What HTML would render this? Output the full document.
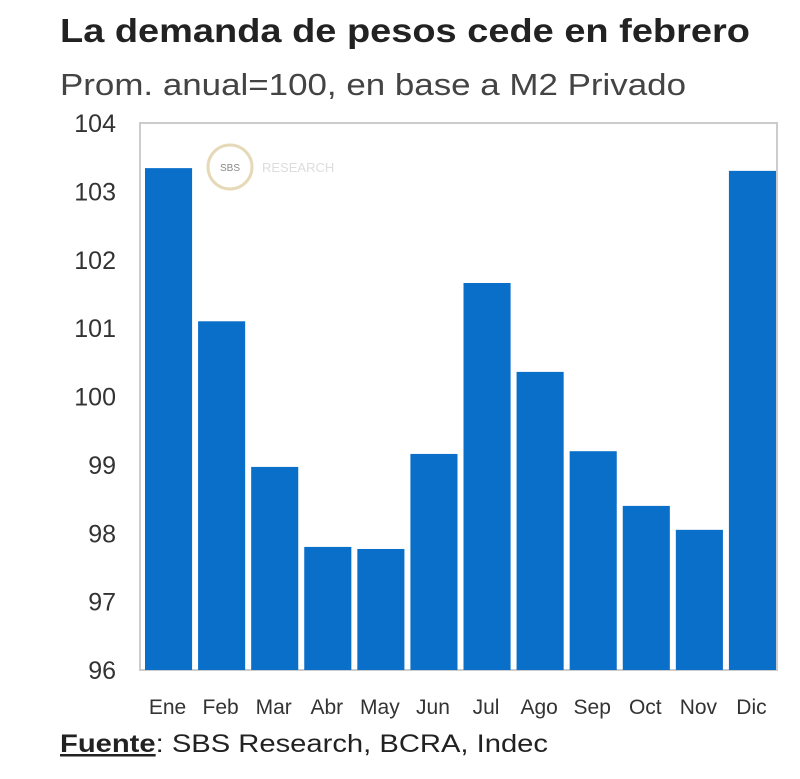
<!DOCTYPE html>
<html><head><meta charset="utf-8"><style>
body{margin:0;background:#fff;width:800px;height:774px;overflow:hidden;font-family:"Liberation Sans",sans-serif;}
</style></head><body>
<svg width="800" height="774">
<text x="60" y="42" font-size="33" font-weight="bold" fill="#222" textLength="690" lengthAdjust="spacingAndGlyphs">La demanda de pesos cede en febrero</text>
<text x="60" y="95" font-size="31" fill="#444" textLength="626" lengthAdjust="spacingAndGlyphs">Prom. anual=100, en base a M2 Privado</text>
<rect x="140" y="123" width="637" height="547" fill="#fff" stroke="#ccc" stroke-width="2"/>
<g>
<circle cx="230" cy="167" r="22" fill="#fff" stroke="#e6d9b8" stroke-width="3"/>
<text x="230" y="171" font-size="10" text-anchor="middle" fill="#888">SBS</text>
<text x="262" y="172" font-size="13" fill="#ddd">RESEARCH</text>
</g>
<g id="bars"></g><g id="yt"></g><g id="xt"></g>
<text x="60" y="752" font-size="25" fill="#222" textLength="488" lengthAdjust="spacingAndGlyphs"><tspan font-weight="bold" text-decoration="underline">Fuente</tspan>: SBS Research, BCRA, Indec</text>
</svg>
<script>
const categories=["Ene","Feb","Mar","Abr","May","Jun","Jul","Ago","Sep","Oct","Nov","Dic"];
const values=[103.34,101.1,98.97,97.8,97.77,99.16,101.66,100.36,99.2,98.4,98.05,103.3];
const yTicks=[96,97,98,99,100,101,102,103,104];
const NS="http://www.w3.org/2000/svg";
const x0=140,x1=777,yTop=123,yBot=670,ymin=96,ymax=104;
const slot=(x1-x0)/categories.length;
function yS(v){return yBot-(v-ymin)/(ymax-ymin)*(yBot-yTop);}
function xS(i){return x0+i*slot;}
const bars=document.getElementById('bars'),yt=document.getElementById('yt'),xt=document.getElementById('xt');
values.forEach((v,i)=>{
 const r=document.createElementNS(NS,'rect');
 r.setAttribute('x',xS(i)+5);r.setAttribute('width',slot-6);
 r.setAttribute('y',yS(v));r.setAttribute('height',yBot-yS(v));
 r.setAttribute('fill','#0a6fc9');
 
 
 bars.appendChild(r);
 const t=document.createElementNS(NS,'text');
 t.setAttribute('x',xS(i)+slot/2+1);t.setAttribute('y',714);
 t.setAttribute('text-anchor','middle');t.setAttribute('font-size','21');t.setAttribute('fill','#333');
 t.textContent=categories[i];
 
 
 xt.appendChild(t);
});
yTicks.forEach(v=>{
 const t=document.createElementNS(NS,'text');
 t.setAttribute('x',116);t.setAttribute('y',yS(v)+9);
 t.setAttribute('text-anchor','end');t.setAttribute('font-size','25');t.setAttribute('fill','#333');
 t.textContent=v;
 
 
 yt.appendChild(t);
});
</script>
</body></html>
